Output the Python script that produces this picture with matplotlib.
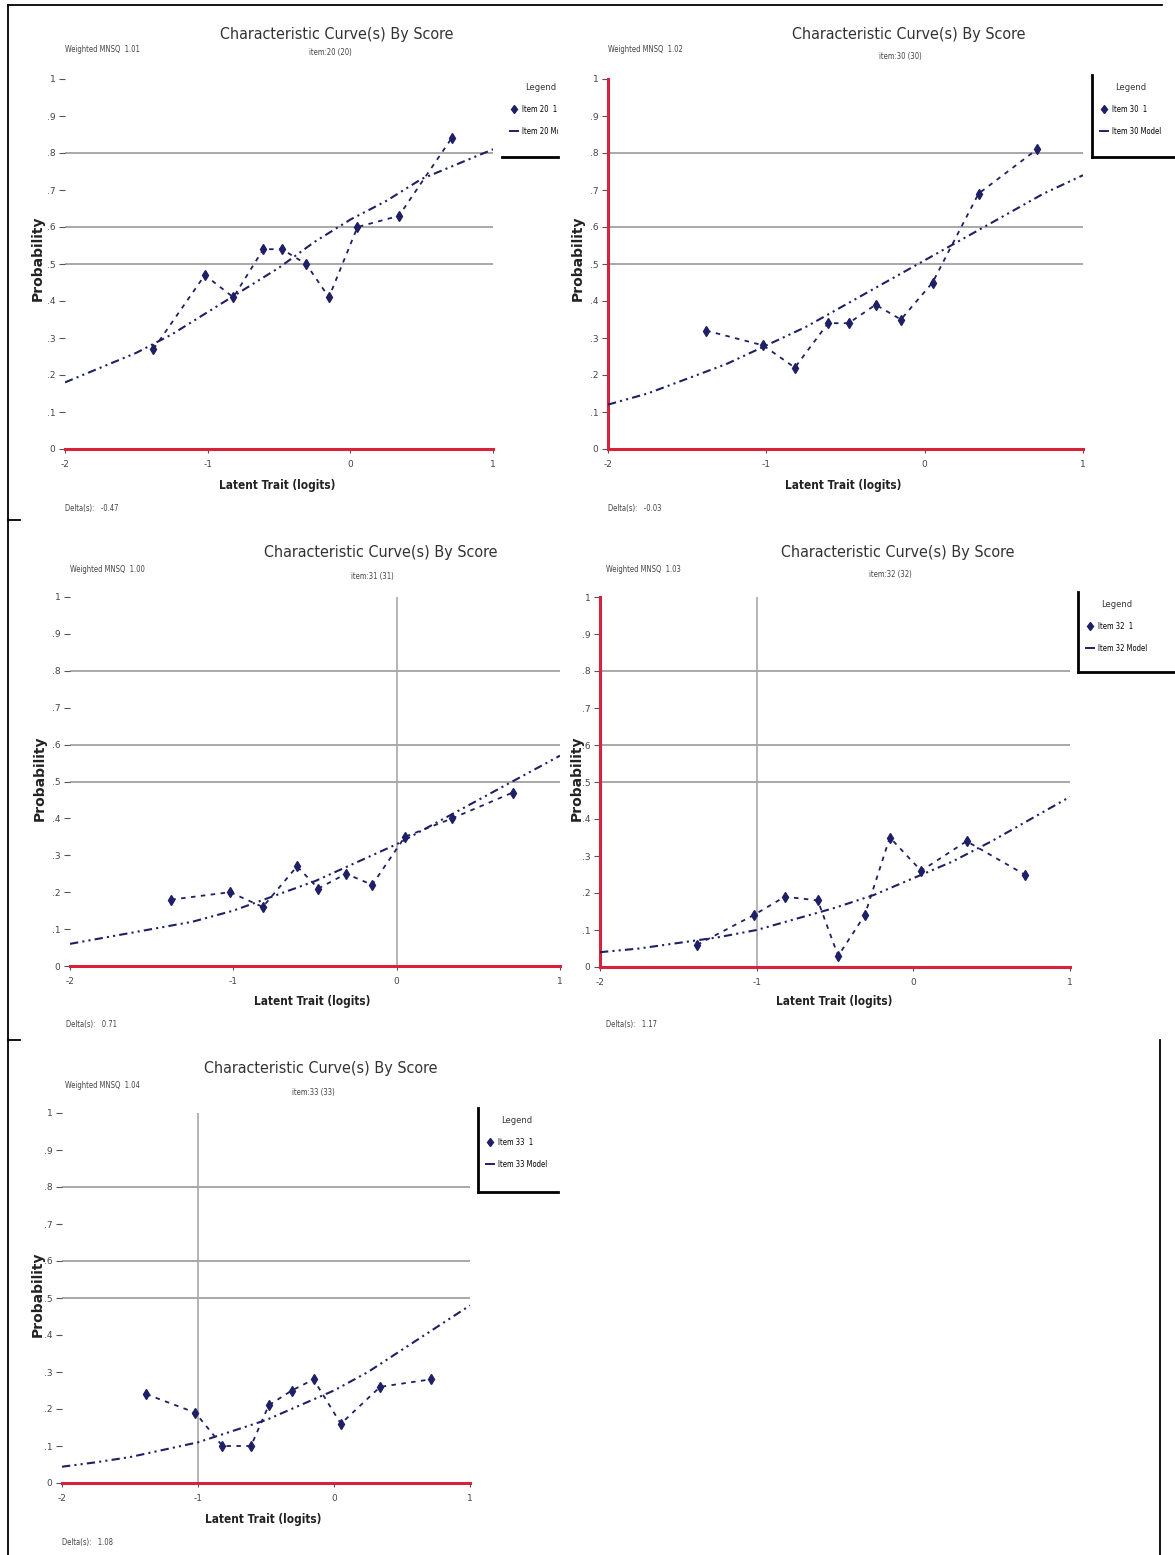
import matplotlib
matplotlib.use('Agg')
import matplotlib.pyplot as plt
from matplotlib.lines import Line2D

W, H = 1175, 1555

# score-group mean abilities (logits), shared by every item
obs_x = [-1.38, -1.02, -0.82, -0.61, -0.48, -0.31, -0.15, 0.05, 0.34, 0.71]
# abilities at which the model probability curve is drawn
model_x = [-2.0, -1.75, -1.5, -1.25, -1.0, -0.75, -0.5, -0.25, 0.0, 0.25, 0.5, 0.75, 1.0]

item_no = ['20', '30', '31', '32', '33']
mnsq = ['1.01', '1.02', '1.00', '1.03', '1.04']
delta = ['-0.47', '-0.03', '0.71', '1.17', '1.08']

obs_20 = [0.27, 0.47, 0.41, 0.54, 0.54, 0.50, 0.41, 0.60, 0.63, 0.84]
obs_30 = [0.32, 0.28, 0.22, 0.34, 0.34, 0.39, 0.35, 0.45, 0.69, 0.81]
obs_31 = [0.18, 0.20, 0.16, 0.27, 0.21, 0.25, 0.22, 0.35, 0.40, 0.47]
obs_32 = [0.06, 0.14, 0.19, 0.18, 0.03, 0.14, 0.35, 0.26, 0.34, 0.25]
obs_33 = [0.24, 0.19, 0.10, 0.10, 0.21, 0.25, 0.28, 0.16, 0.26, 0.28]

model_20 = [0.18, 0.22, 0.26, 0.31, 0.37, 0.43, 0.49, 0.56, 0.62, 0.67, 0.73, 0.77, 0.81]
model_30 = [0.12, 0.15, 0.19, 0.23, 0.28, 0.33, 0.39, 0.45, 0.51, 0.57, 0.63, 0.69, 0.74]
model_31 = [0.06, 0.08, 0.10, 0.12, 0.15, 0.19, 0.23, 0.28, 0.33, 0.39, 0.45, 0.51, 0.57]
model_32 = [0.04, 0.05, 0.065, 0.08, 0.10, 0.13, 0.16, 0.195, 0.24, 0.285, 0.34, 0.40, 0.46]
model_33 = [0.044, 0.056, 0.07, 0.09, 0.11, 0.14, 0.17, 0.21, 0.25, 0.30, 0.36, 0.42, 0.48]

observed = [obs_20, obs_30, obs_31, obs_32, obs_33]
models = [model_20, model_30, model_31, model_32, model_33]
zero_line = [None, None, 0, -1, -1]
gridlines = [0.5, 0.6, 0.8]
y_ticks = [0, 0.1, 0.2, 0.3, 0.4, 0.5, 0.6, 0.7, 0.8, 0.9, 1.0]
y_ticklabels = ['0', '.1', '.2', '.3', '.4', '.5', '.6', '.7', '.8', '.9', '1']
x_ticks = [-2, -1, 0, 1]

# pixel layout: plot area (left, top, right, bottom)
plot_box = [(65, 79, 493, 449), (608, 79, 1083, 449), (70, 597, 560, 966),
            (600, 597, 1070, 967), (62, 1113, 470, 1483)]
red_left = [False, True, False, True, False]
title_xy = [(337, 34), (909, 34), (381, 552), (898, 552), (321, 1069)]
sub_xy = [(330, 52), (900, 56), (372, 576), (890, 575), (313, 1093)]
mnsq_xy = [(65, 50), (608, 50), (70, 569), (606, 569), (65, 1086)]
delta_xy = [(65, 508), (608, 508), (66, 1024), (606, 1024), (62, 1543)]
ylab_xy = [(38, 258), (578, 258), (40, 778), (577, 778), (38, 1294)]
xlab_xy = [(277, 486), (843, 486), (312, 1001), (834, 1002), (263, 1520)]
# legend boxes (left, top, right, bottom) and whether the left edge shows
leg_box = [(502, 75, 558, 157), (1092, 75, 1175, 157), None,
           (1078, 592, 1175, 672), (478, 1108, 558, 1192)]
leg_left = [False, True, None, True, True]

navy = '#1f1f66'
red = '#d8213a'
grey = '#a8a8a8'
cond = dict(family='DejaVu Sans', stretch='condensed')


def frac(box):
    l, t, r, b = box
    return [l / W, 1 - b / H, (r - l) / W, (b - t) / H]


fig = plt.figure(figsize=(W / 100, H / 100), dpi=100)

# full-figure overlay in pixel units for frame lines and captions
ov = fig.add_axes([0, 0, 1, 1], zorder=0)
ov.set_xlim(0, W)
ov.set_ylim(H, 0)
ov.axis('off')
ov.plot([8, 1162], [5, 5], color='black', lw=1.3)
ov.plot([8, 8], [5, H], color='black', lw=1.3)
ov.plot([1160, 1160], [1040, H], color='black', lw=1.3)
ov.plot([8, 20], [520, 520], color='black', lw=1.3)
ov.plot([8, 20], [1040, 1040], color='black', lw=1.3)

for i in range(5):
    ax = fig.add_axes(frac(plot_box[i]), zorder=2)
    ax.patch.set_alpha(0)
    ax.set_xlim(-2, 1)
    ax.set_ylim(0, 1)

    for g in gridlines:
        ax.axhline(g, color=grey, lw=1.4, zorder=1)
    if zero_line[i] is not None:
        ax.axvline(zero_line[i], color=grey, lw=1.2, zorder=1)

    ax.plot(model_x, models[i], color=navy, lw=1.5,
            linestyle=(0, (4, 2, 1, 2, 1, 2)), zorder=3)
    ax.plot(obs_x, observed[i], color=navy, lw=1.3, linestyle=(0, (2.5, 3)),
            marker='d', ms=5, mfc=navy, mec=navy, zorder=4)

    for s in ['top', 'right']:
        ax.spines[s].set_visible(False)
    ax.spines['bottom'].set_color(red)
    ax.spines['bottom'].set_linewidth(2.2)
    if red_left[i]:
        ax.spines['left'].set_color(red)
        ax.spines['left'].set_linewidth(2.2)
    else:
        ax.spines['left'].set_visible(False)

    ax.set_yticks(y_ticks)
    ax.set_yticklabels(y_ticklabels)
    ax.set_xticks(x_ticks)
    ax.set_xticklabels([str(v) for v in x_ticks])
    ax.tick_params(axis='y', length=4, width=0.8, color='#555555', pad=3,
                   labelsize=6.5, labelcolor='#444444')
    ax.tick_params(axis='x', length=3, width=0.8, color='#555555', pad=5,
                   labelsize=6.5, labelcolor='#444444')

    tx, ty = title_xy[i]
    ov.text(tx, ty, 'Characteristic Curve(s) By Score', ha='center', va='center',
            fontsize=11.5, color='#333333', **cond)
    sx, sy = sub_xy[i]
    ov.text(sx, sy, 'item:%s (%s)' % (item_no[i], item_no[i]), ha='center',
            va='center', fontsize=5.5, color='#444444', **cond)
    mx, my = mnsq_xy[i]
    ov.text(mx, my, 'Weighted MNSQ  %s' % mnsq[i], ha='left', va='center',
            fontsize=5.5, color='#444444', **cond)
    dx, dy = delta_xy[i]
    ov.text(dx, dy, 'Delta(s):   %s' % delta[i], ha='left', va='center',
            fontsize=5.5, color='#444444', **cond)
    lx, ly = ylab_xy[i]
    ov.text(lx, ly, 'Probability', rotation=90, ha='center', va='center',
            fontsize=10, fontweight='bold', color='#222222')
    xx, xy = xlab_xy[i]
    ov.text(xx, xy, 'Latent Trait (logits)', ha='center', va='center',
            fontsize=8.5, fontweight='bold', color='#222222', **cond)

    if leg_box[i] is None:
        continue
    lax = fig.add_axes(frac(leg_box[i]), zorder=3)
    lax.set_xticks([])
    lax.set_yticks([])
    lax.patch.set_alpha(0)
    for s in ['top', 'right']:
        lax.spines[s].set_visible(False)
    lax.spines['bottom'].set_linewidth(2)
    lax.spines['left'].set_linewidth(2)
    lax.spines['left'].set_visible(leg_left[i])
    handles = [Line2D([], [], color=navy, marker='d', ms=4.5, linestyle='none'),
               Line2D([], [], color=navy, lw=1.4)]
    labels = ['Item %s  1' % item_no[i], 'Item %s Model' % item_no[i]]
    leg = lax.legend(handles, labels, title='Legend', loc='upper left',
                     bbox_to_anchor=(0, 1), frameon=False,
                     prop=dict(size=5.5, **cond), title_fontsize=6,
                     handlelength=1.1, handletextpad=0.5,
                     labelspacing=1.7, borderaxespad=0.3, borderpad=0.7)
    leg.get_title().set_color('#333333')
    for a in leg.findobj():
        a.set_clip_box(lax.bbox)
        a.set_clip_on(True)

fig.savefig('out.png', dpi=100, facecolor='white')
